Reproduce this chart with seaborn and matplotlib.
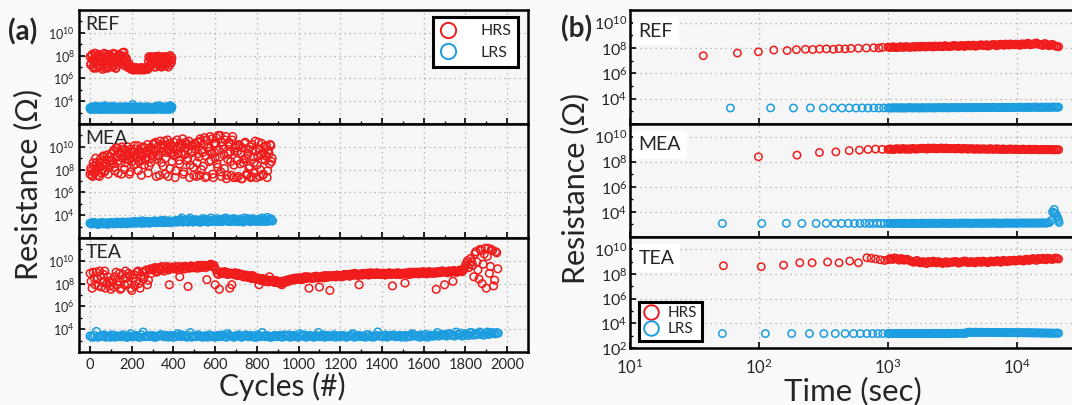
import numpy as np
import pandas as pd
import matplotlib
matplotlib.use("Agg")
import matplotlib.pyplot as plt
from matplotlib.lines import Line2D
from matplotlib.ticker import FixedLocator, FuncFormatter, NullFormatter, NullLocator
import seaborn as sns

# ======================= DATA =======================
PANELS = ["REF", "MEA", "TEA"]
STATES = ["HRS", "LRS"]
CYCLE_TICKS = [0, 200, 400, 600, 800, 1000, 1200, 1400, 1600, 1800, 2000]
TIME_TICKS = [10, 100, 1000, 10000]
RES_TICK_EXP = [4, 6, 8, 10]

# ---- (a) endurance: log10(R/Ohm); list A read at cycles 0, STEP, 2*STEP ...,
#      list B read half a step later ----
REF_HRS_STEP = 5
REF_HRS = [7.9, 7.3, 8.1, 7.0, 7.6, 8.2, 6.9, 7.5, 7.8, 7.1,
           8.0, 7.4, 6.8, 7.7, 8.1, 7.2, 7.9, 6.9, 7.6, 8.0,
           7.3, 7.8, 7.0, 8.1, 7.5, 6.9, 7.7, 7.4, 8.0, 7.6,
           8.0, 8.25, 7.5, 7.9, 7.4, 7.6, 7.2, 7.0, 6.9, 6.85,
           6.8, 6.9, 6.75, 6.85, 6.8, 6.9, 6.8, 6.75, 6.9, 6.85,
           6.8, 6.9, 6.75, 6.85, 6.8, 6.9, 7.5, 7.8, 7.1, 7.9,
           7.3, 7.6, 7.9, 7.0, 7.7, 7.4, 7.95, 7.2, 7.6, 7.8,
           7.1, 7.5, 7.9, 7.3, 7.7, 7.0, 7.6, 8.0, 7.4]
REF_HRS_B = [7.2, 8.0, 7.6, 6.9, 8.2, 7.4, 7.9, 7.1, 8.1, 7.7,
             7.0, 7.8, 7.5, 8.2, 6.9, 7.6, 7.3, 8.1, 7.0, 7.5,
             7.9, 7.1, 8.2, 7.4, 6.9, 7.8, 7.2, 8.1, 7.5, 7.9,
             7.3, 7.7, 8.3, 7.1, 7.8, 7.3, 6.95, 7.3, 7.0, 6.8,
             6.9, 6.75, 6.85, 6.95, 6.75, 6.8, 6.9, 6.85, 6.75, 6.95,
             6.85, 6.75, 6.9, 6.8, 6.95, 6.8, 7.9, 7.2, 7.7, 7.4,
             7.8, 7.0, 7.5, 7.9, 7.2, 7.8, 7.3, 7.7, 7.0, 7.5,
             7.9, 7.3, 7.1, 7.8, 7.4, 7.9, 7.2, 7.6, 7.8]
REF_LRS_STEP = 5
REF_LRS = [3.4, 3.3, 3.5, 3.35, 3.45, 3.3, 3.55, 3.4, 3.3, 3.45,
           3.35, 3.5, 3.3, 3.4, 3.6, 3.3, 3.45, 3.35, 3.5, 3.3,
           3.4, 3.3, 3.55, 3.35, 3.45, 3.3, 3.4, 3.5, 3.3, 3.4,
           3.35, 3.45, 3.3, 3.5, 3.4, 3.3, 3.45, 3.35, 3.3, 3.4,
           3.5, 3.7, 3.3, 3.4, 3.35, 3.45, 3.3, 3.5, 3.35, 3.4,
           3.3, 3.45, 3.35, 3.4, 3.3, 3.5, 3.35, 3.4, 3.3, 3.45,
           3.35, 3.4, 3.3, 3.5, 3.35, 3.4, 3.6, 3.3, 3.45, 3.35,
           3.4, 3.3, 3.45, 3.35, 3.4, 3.3, 3.55, 3.6, 3.35]
REF_LRS_B = [3.3, 3.45, 3.35, 3.5, 3.3, 3.4, 3.35, 3.5, 3.45, 3.3,
             3.45, 3.3, 3.4, 3.35, 3.45, 3.5, 3.3, 3.4, 3.35, 3.45,
             3.3, 3.5, 3.35, 3.4, 3.3, 3.45, 3.35, 3.3, 3.45, 3.35,
             3.5, 3.3, 3.4, 3.35, 3.45, 3.5, 3.3, 3.45, 3.4, 3.3,
             3.35, 3.45, 3.5, 3.3, 3.4, 3.35, 3.45, 3.3, 3.4, 3.5,
             3.35, 3.3, 3.45, 3.35, 3.5, 3.3, 3.45, 3.35, 3.4, 3.3,
             3.45, 3.35, 3.5, 3.3, 3.4, 3.45, 3.35, 3.4, 3.3, 3.5,
             3.35, 3.45, 3.3, 3.5, 3.35, 3.45, 3.3, 3.4, 3.5]

MEA_HRS_STEP = 6
MEA_HRS = [7.6, 7.9, 7.4, 8.3, 7.8, 8.6, 7.5, 8.1, 8.9, 7.7, 8.4, 9.1, 7.9, 8.6, 9.3, 8.2, 8.8,
           9.4, 8.5, 9.7, 7.9, 9.2, 9.9, 8.8, 9.5, 7.6, 9.0, 9.8, 8.6, 9.3, 10.0, 8.9, 7.8, 9.6,
           9.1, 8.4, 9.8, 9.3, 10.1, 8.7, 9.5, 7.5, 9.2, 9.9, 8.9, 9.6, 10.2, 8.3, 9.4, 9.8, 9.0,
           10.3, 9.6, 7.4, 10.0, 9.2, 10.5, 8.6, 9.9, 10.2, 7.6, 9.5, 10.6, 9.8, 8.1, 10.1, 9.4,
           10.4, 7.3, 9.7, 10.0, 8.8, 10.3, 9.5, 10.7, 7.8, 9.9, 10.2, 9.0, 10.5, 8.4, 9.6, 10.1, 7.5,
           9.8, 7.4, 10.4, 9.1, 10.7, 8.0, 9.5, 10.2, 7.3, 10.6, 9.9, 8.7, 10.9, 9.4, 7.6, 10.3,
           9.0, 10.8, 8.2, 9.7, 11.0, 7.4, 10.1, 9.3, 10.6, 7.2, 8.9, 10.4, 9.6, 7.5, 10.9, 8.4, 9.9,
           7.3, 9.6, 10.2, 8.5, 7.2, 9.9, 8.9, 10.4, 7.6, 9.3, 8.1, 10.0, 7.4, 9.7, 8.6, 10.5,
           7.3, 9.2, 9.8, 8.0, 10.3, 7.5, 9.5, 8.8, 10.1, 7.9, 9.4, 10.2, 8.7]
MEA_HRS_B = [8.1, 7.5, 8.6, 7.7, 9.0, 7.9, 8.3, 7.4, 8.7, 8.0, 9.2, 7.8, 8.5, 8.9, 7.6, 9.1, 8.4,
             8.8, 9.6, 8.2, 9.9, 9.1, 7.7, 9.4, 8.6, 10.0, 9.2, 8.0, 9.7, 8.9, 9.3, 7.6, 9.8, 8.7,
             9.5, 10.1, 8.5, 9.0, 7.9, 9.7, 9.3, 8.8, 10.0, 8.4, 9.5, 9.1, 7.7, 9.9, 8.6, 9.2, 10.2,
             9.7, 10.4, 8.9, 9.3, 7.5, 10.1, 9.6, 8.3, 10.5, 9.0, 9.8, 7.4, 10.3, 9.5, 8.7, 10.0,
             9.2, 7.9, 10.6, 9.4, 8.5, 9.9, 10.2, 7.6, 9.3, 10.4, 8.8, 9.7, 7.3, 10.1, 9.5, 8.2, 10.3,
             10.2, 8.6, 9.4, 7.5, 10.5, 9.7, 8.3, 10.8, 9.2, 7.4, 10.0, 9.6, 8.8, 10.7, 7.3, 9.5,
             10.3, 8.5, 11.0, 9.1, 7.8, 10.4, 9.8, 8.1, 10.9, 7.5, 9.4, 10.2, 8.7, 10.6, 7.3, 9.6, 10.1,
             8.8, 7.4, 10.1, 9.4, 7.2, 8.6, 10.3, 9.0, 7.5, 9.8, 8.3, 7.3, 10.2, 9.1, 7.7, 9.6,
             8.4, 10.4, 7.4, 9.3, 8.9, 7.6, 10.0, 9.2, 7.3, 9.7, 8.5, 10.1, 9.0]
MEA_LRS_STEP = 10
MEA_LRS = [3.3, 3.25, 3.35, 3.3, 3.2, 3.3, 3.35, 3.25, 3.3, 3.3,
           3.35, 3.25, 3.3, 3.4, 3.3, 3.25, 3.35, 3.3, 3.4, 3.3,
           3.35, 3.45, 3.3, 3.4, 3.35, 3.5, 3.3, 3.4, 3.45, 3.35,
           3.4, 3.5, 3.35, 3.45, 3.4, 3.55, 3.35, 3.45, 3.5, 3.4,
           3.45, 3.55, 3.4, 3.5, 3.75, 3.45, 3.55, 3.4, 3.75, 3.5,
           3.45, 3.6, 3.5, 3.4, 3.7, 3.5, 3.6, 3.45, 3.75, 3.55,
           3.5, 3.7, 3.45, 3.6, 3.55, 3.75, 3.5, 3.65, 3.45, 3.7,
           3.55, 3.45, 3.65, 3.5, 3.75, 3.55, 3.6, 3.45, 3.7, 3.55,
           3.5, 3.65, 3.45, 3.7, 3.55, 3.8, 3.5, 3.6]
MEA_LRS_B = [3.25, 3.35, 3.3, 3.2, 3.3, 3.35, 3.25, 3.3, 3.2, 3.35,
             3.3, 3.35, 3.25, 3.3, 3.35, 3.4, 3.3, 3.25, 3.35, 3.4,
             3.3, 3.4, 3.35, 3.45, 3.3, 3.35, 3.45, 3.35, 3.3, 3.4,
             3.45, 3.35, 3.4, 3.5, 3.35, 3.4, 3.5, 3.4, 3.35, 3.45,
             3.4, 3.5, 3.45, 3.6, 3.4, 3.5, 3.45, 3.6, 3.45, 3.4,
             3.55, 3.45, 3.4, 3.55, 3.45, 3.65, 3.4, 3.5, 3.45, 3.6,
             3.45, 3.55, 3.6, 3.45, 3.7, 3.5, 3.45, 3.55, 3.6, 3.5,
             3.45, 3.6, 3.5, 3.4, 3.55, 3.7, 3.45, 3.6, 3.5, 3.45,
             3.6, 3.45, 3.75, 3.5, 3.45, 3.6, 3.7, 3.5]

TEA_HRS_STEP = 10
TEA_HRS = [8.9, 7.6, 8.5, 9.0, 7.8, 8.7, 8.1, 9.1, 8.0, 8.2,
           7.5, 8.1, 8.6, 7.9, 8.9, 7.6, 8.4, 9.1, 8.0, 8.7,
           7.4, 8.8, 8.2, 9.1, 7.6, 9.0, 8.6, 9.2, 8.3, 9.3,
           9.2, 9.4, 9.0, 9.3, 9.2, 9.4, 9.3, 9.5, 7.9, 9.3,
           9.4, 9.3, 9.5, 8.6, 9.4, 9.3, 9.5, 7.75, 9.4, 9.5,
           9.4, 9.5, 9.6, 9.4, 9.5, 9.6, 8.35, 9.6, 9.7, 9.5,
           7.9, 8.9, 7.5, 9.0, 8.9, 9.0, 8.8, 7.6, 7.9, 8.9,
           8.8, 8.9, 8.7, 8.8, 8.6, 8.7, 8.6, 8.5, 8.7, 8.5,
           8.4, 7.9, 8.3, 8.4, 8.2, 8.3, 8.6, 8.2, 8.3, 8.1,
           8.2, 8.0, 7.9, 8.1, 8.3, 8.2, 8.4, 8.3, 8.4, 8.5,
           8.4, 8.5, 8.4, 8.6, 8.5, 7.6, 8.5, 8.6, 8.5, 8.6,
           7.7, 8.6, 8.5, 8.6, 8.7, 7.4, 8.6, 8.7, 8.6, 8.7,
           8.7, 8.6, 8.8, 8.7, 8.8, 8.7, 8.8, 8.9, 8.8, 7.9,
           8.8, 8.9, 8.8, 8.9, 8.8, 8.9, 8.9, 8.8, 8.9, 8.9,
           8.8, 8.9, 8.8, 8.9, 8.8, 7.8, 8.9, 8.8, 8.9, 8.8,
           8.9, 8.05, 8.9, 8.8, 8.9, 9.0, 8.9, 8.9, 9.0, 8.9,
           8.9, 9.0, 8.9, 9.0, 8.9, 9.0, 7.5, 9.0, 9.0, 9.1,
           7.9, 9.0, 9.1, 9.0, 8.2, 9.1, 9.0, 9.1, 9.1, 9.2,
           9.6, 10.0, 9.7, 9.9, 8.6, 10.8, 9.2, 11.0, 8.0, 10.6,
           7.6, 11.1, 9.5, 10.9, 8.3, 10.7]
TEA_HRS_B = [8.2, 9.0, 7.9, 8.4, 9.1, 7.7, 8.8, 7.6, 8.6, 7.8,
             8.3, 7.7, 9.0, 8.2, 7.5, 8.8, 7.9, 8.5, 8.9, 7.6,
             8.5, 7.8, 9.0, 8.0, 8.7, 8.4, 9.1, 7.9, 9.2, 8.9,
             9.3, 9.1, 9.4, 9.2, 9.5, 9.1, 9.4, 9.2, 9.35, 9.45,
             9.3, 9.5, 9.2, 9.4, 9.5, 9.3, 9.45, 9.35, 9.55, 9.4,
             9.5, 9.35, 9.45, 9.6, 9.5, 9.4, 9.55, 9.65, 9.5, 9.6,
             9.2, 8.8, 9.0, 8.9, 9.05, 8.85, 8.95, 8.9, 8.8, 8.95,
             8.7, 8.85, 8.75, 8.6, 8.75, 8.55, 8.7, 8.45, 8.6, 8.4,
             8.5, 8.3, 8.45, 8.25, 8.35, 8.15, 8.3, 8.2, 8.1, 8.25,
             8.1, 8.2, 8.05, 8.25, 8.15, 8.35, 8.3, 8.45, 8.35, 8.4,
             8.5, 8.35, 8.55, 8.45, 8.6, 8.5, 8.45, 8.55, 8.65, 8.5,
             8.55, 8.65, 8.7, 8.55, 8.6, 8.7, 8.65, 8.6, 8.75, 8.65,
             8.65, 8.75, 8.7, 8.8, 8.65, 8.85, 8.75, 8.8, 8.7, 8.85,
             8.75, 8.85, 8.9, 8.75, 8.95, 8.8, 8.85, 8.95, 8.8, 8.85,
             8.9, 8.75, 8.85, 8.95, 8.8, 8.9, 8.85, 8.95, 8.8, 8.9,
             8.85, 8.95, 8.8, 9.0, 8.85, 8.95, 9.0, 8.85, 8.95, 9.05,
             8.95, 8.85, 9.05, 8.95, 9.0, 8.9, 9.05, 8.95, 9.1, 9.0,
             9.05, 8.95, 9.1, 9.05, 9.15, 9.0, 9.1, 9.2, 9.05, 9.3,
             9.8, 9.4, 10.2, 9.6, 10.6, 9.9, 8.4, 10.9, 9.7, 11.1,
             10.4, 8.9, 11.0, 7.8, 10.8, 9.3]
TEA_LRS_STEP = 15
TEA_LRS = [3.4, 3.3, 3.8, 3.35, 3.45, 3.3, 3.4, 3.5, 3.3, 3.4,
           3.35, 3.45, 3.3, 3.6, 3.35, 3.4, 3.3, 3.75, 3.4, 3.35,
           3.45, 3.3, 3.4, 3.5, 3.35, 3.3, 3.45, 3.4, 3.6, 3.35,
           3.4, 3.3, 3.7, 3.4, 3.35, 3.45, 3.3, 3.4, 3.5, 3.35,
           3.3, 3.45, 3.4, 3.35, 3.6, 3.4, 3.3, 3.45, 3.35, 3.4,
           3.5, 3.35, 3.4, 3.3, 3.45, 3.7, 3.35, 3.4, 3.3, 3.45,
           3.4, 3.35, 3.5, 3.4, 3.3, 3.45, 3.35, 3.6, 3.4, 3.3,
           3.45, 3.4, 3.35, 3.7, 3.4, 3.3, 3.45, 3.35, 3.5, 3.4,
           3.35, 3.45, 3.3, 3.4, 3.6, 3.35, 3.45, 3.4, 3.3, 3.5,
           3.4, 3.35, 3.75, 3.4, 3.45, 3.3, 3.4, 3.5, 3.35, 3.45,
           3.4, 3.3, 3.45, 3.6, 3.4, 3.35, 3.5, 3.4, 3.3, 3.45,
           3.4, 3.7, 3.45, 3.5, 3.4, 3.6, 3.45, 3.75, 3.5, 3.4,
           3.6, 3.45, 3.7, 3.5, 3.55, 3.65, 3.5, 3.75, 3.6, 3.65,
           3.7]
TEA_LRS_B = [3.35, 3.45, 3.3, 3.4, 3.5, 3.35, 3.3, 3.45, 3.4, 3.35,
             3.5, 3.3, 3.4, 3.35, 3.45, 3.3, 3.5, 3.35, 3.4, 3.45,
             3.3, 3.4, 3.5, 3.35, 3.45, 3.4, 3.3, 3.35, 3.45, 3.5,
             3.35, 3.45, 3.3, 3.4, 3.5, 3.35, 3.4, 3.3, 3.45, 3.4,
             3.4, 3.35, 3.5, 3.3, 3.45, 3.35, 3.4, 3.5, 3.3, 3.45,
             3.35, 3.45, 3.3, 3.5, 3.35, 3.4, 3.45, 3.3, 3.4, 3.35,
             3.45, 3.3, 3.4, 3.5, 3.35, 3.4, 3.3, 3.45, 3.5, 3.35,
             3.4, 3.3, 3.45, 3.35, 3.5, 3.4, 3.35, 3.45, 3.3, 3.4,
             3.45, 3.35, 3.4, 3.5, 3.3, 3.45, 3.35, 3.4, 3.5, 3.35,
             3.3, 3.45, 3.4, 3.35, 3.5, 3.4, 3.45, 3.35, 3.4, 3.3,
             3.45, 3.4, 3.35, 3.5, 3.45, 3.3, 3.4, 3.55, 3.45, 3.4,
             3.5, 3.4, 3.55, 3.45, 3.6, 3.5, 3.4, 3.55, 3.65, 3.45,
             3.55, 3.7, 3.5, 3.6, 3.75, 3.5, 3.65, 3.55, 3.7, 3.6,
             3.65]

# ---- (b) retention: time (s) and log10(R/Ohm) ----
T_DENSE = [1000, 1060, 1120, 1190, 1260, 1330, 1410, 1500, 1580, 1680,
           1780, 1880, 2000, 2110, 2240, 2370, 2510, 2660, 2820, 2990,
           3160, 3350, 3550, 3760, 3980, 4220, 4470, 4730, 5010, 5310,
           5620, 5960, 6310, 6680, 7080, 7500, 7940, 8410, 8910, 9440,
           10000, 10590, 11220, 11890, 12590, 13340, 14130, 14960, 15850, 16790,
           17780, 18840, 19950, 21000]
T_DENSE_B = [1030, 1090, 1155, 1225, 1295, 1370, 1455, 1540, 1630, 1730,
             1830, 1940, 2055, 2175, 2305, 2440, 2585, 2740, 2905, 3075,
             3255, 3450, 3655, 3870, 4100, 4345, 4600, 4870, 5160, 5465,
             5790, 6135, 6495, 6880, 7290, 7720, 8175, 8660, 9175, 9720,
             10295, 10905, 11555, 12240, 12965, 13735, 14545, 15405, 16320, 17285,
             18310, 19395, 20475]

REF_HRS_T0 = [37, 68, 99, 130, 165, 195, 229, 261, 295, 333, 377, 417, 465, 515, 590, 680, 775, 850, 907]
REF_HRS_R0 = [7.39, 7.6, 7.7, 7.84, 7.8, 7.87, 7.9, 7.88, 7.92, 7.93, 7.9, 7.95, 7.93, 7.97, 7.98, 8.0, 8.02, 8.0, 8.05]
REF_HRS_R = [8.08, 8.05, 8.07, 8.05, 8.1, 8.06, 8.08, 8.05, 8.1, 8.12,
             8.08, 8.12, 8.1, 8.14, 8.08, 8.12, 8.15, 8.1, 8.16, 8.12,
             8.15, 8.18, 8.12, 8.2, 8.15, 8.22, 8.18, 8.14, 8.2, 8.25,
             8.2, 8.15, 8.24, 8.28, 8.2, 8.3, 8.22, 8.26, 8.32, 8.25,
             8.28, 8.22, 8.3, 8.35, 8.25, 8.3, 8.4, 8.28, 8.2, 8.32,
             8.18, 8.28, 8.15, 8.1]
REF_HRS_RB = [8.04, 8.09, 8.03, 8.08, 8.05, 8.11, 8.07, 8.1, 8.06, 8.1,
              8.14, 8.09, 8.13, 8.1, 8.16, 8.11, 8.13, 8.18, 8.12, 8.15,
              8.2, 8.14, 8.19, 8.13, 8.21, 8.16, 8.23, 8.17, 8.24, 8.19,
              8.26, 8.21, 8.27, 8.18, 8.29, 8.24, 8.31, 8.23, 8.28, 8.3,
              8.24, 8.33, 8.27, 8.37, 8.29, 8.36, 8.31, 8.25, 8.35, 8.22,
              8.26, 8.2, 8.12]
REF_LRS_T0 = [60, 123, 185, 250, 315, 379, 440, 500, 565, 630, 700, 776, 850, 925]
REF_LRS_R0 = [3.26, 3.27, 3.26, 3.27, 3.26, 3.27, 3.26, 3.27, 3.26, 3.27, 3.26, 3.27, 3.26, 3.27]
REF_LRS_R = [3.27, 3.26, 3.27, 3.28, 3.27, 3.26, 3.27, 3.28, 3.27, 3.28,
             3.27, 3.28, 3.27, 3.28, 3.27, 3.28, 3.29, 3.28, 3.27, 3.28,
             3.28, 3.29, 3.28, 3.29, 3.28, 3.29, 3.28, 3.29, 3.3, 3.29,
             3.3, 3.29, 3.3, 3.31, 3.3, 3.29, 3.3, 3.31, 3.3, 3.31,
             3.31, 3.32, 3.3, 3.32, 3.31, 3.32, 3.33, 3.31, 3.32, 3.33,
             3.32, 3.33, 3.32, 3.33]
REF_LRS_RB = [3.26, 3.28, 3.27, 3.26, 3.28, 3.27, 3.29, 3.27, 3.28, 3.26,
              3.28, 3.27, 3.29, 3.28, 3.27, 3.29, 3.28, 3.3, 3.28, 3.29,
              3.3, 3.28, 3.29, 3.3, 3.29, 3.31, 3.3, 3.29, 3.31, 3.3,
              3.31, 3.3, 3.32, 3.3, 3.31, 3.32, 3.31, 3.3, 3.32, 3.31,
              3.33, 3.32, 3.31, 3.33, 3.32, 3.34, 3.32, 3.33, 3.31, 3.33,
              3.32, 3.34, 3.33]

MEA_HRS_T0 = [99, 197, 294, 394, 500, 600, 700, 800, 900]
MEA_HRS_R0 = [8.39, 8.52, 8.73, 8.78, 8.88, 8.92, 8.97, 9.0, 8.98]
MEA_HRS_R = [8.98, 9.0, 8.97, 9.02, 8.99, 9.03, 9.0, 8.98, 9.04, 9.01,
             9.03, 9.06, 9.0, 9.05, 9.08, 9.02, 9.06, 9.04, 9.08, 9.03,
             9.05, 9.02, 9.06, 9.01, 9.04, 9.0, 9.03, 8.99, 9.02, 9.0,
             9.01, 8.98, 9.02, 8.99, 9.01, 8.97, 9.0, 8.98, 9.01, 8.97,
             8.99, 8.96, 9.0, 8.97, 8.99, 8.96, 8.98, 8.95, 8.98, 8.96,
             8.97, 8.95, 8.96, 8.95]
MEA_HRS_RB = [9.01, 8.98, 9.03, 9.0, 9.04, 8.99, 9.02, 9.05, 9.0, 9.04,
              9.07, 9.03, 9.09, 9.04, 9.07, 9.05, 9.09, 9.03, 9.06, 9.04,
              9.03, 9.06, 9.02, 9.05, 9.01, 9.04, 9.0, 9.03, 8.99, 9.02,
              8.99, 9.03, 8.98, 9.02, 8.99, 9.01, 8.97, 9.0, 8.98, 9.0,
              8.97, 8.99, 8.96, 8.98, 8.95, 8.99, 8.96, 8.98, 8.95, 8.97,
              8.96, 8.94, 8.96]
MEA_LRS_T0 = [52, 105, 163, 215, 277, 332, 386, 437, 492, 549, 605, 660, 715, 770, 825, 880, 935]
MEA_LRS_R0 = [3.08, 3.08, 3.09, 3.08, 3.08, 3.09, 3.08, 3.08, 3.09, 3.08, 3.08, 3.09, 3.08, 3.08, 3.09, 3.08, 3.08]
MEA_LRS_R = [3.08, 3.09, 3.08, 3.09, 3.08, 3.09, 3.08, 3.09, 3.08, 3.09,
             3.09, 3.08, 3.09, 3.1, 3.09, 3.08, 3.09, 3.1, 3.09, 3.08,
             3.09, 3.1, 3.09, 3.1, 3.09, 3.1, 3.09, 3.1, 3.09, 3.1,
             3.1, 3.09, 3.1, 3.11, 3.1, 3.09, 3.1, 3.11, 3.1, 3.11,
             3.1, 3.11, 3.1, 3.11, 3.12, 3.11, 3.1, 3.11, 3.12, 3.1,
             3.15, 4.0, 3.85, 3.3]
MEA_LRS_RB = [3.09, 3.08, 3.09, 3.1, 3.08, 3.09, 3.08, 3.1, 3.09, 3.08,
              3.1, 3.09, 3.08, 3.09, 3.1, 3.09, 3.1, 3.09, 3.1, 3.09,
              3.1, 3.09, 3.1, 3.1, 3.11, 3.09, 3.1, 3.11, 3.1, 3.09,
              3.11, 3.1, 3.11, 3.1, 3.11, 3.1, 3.12, 3.1, 3.11, 3.1,
              3.11, 3.12, 3.11, 3.1, 3.11, 3.12, 3.11, 3.12, 3.11, 3.13,
              3.3, 3.9, 3.6]
MEA_LRS_TAIL_T = [19400, 20400, 20800, 21200]
MEA_LRS_TAIL_R = [4.2, 3.6, 3.45, 3.15]

TEA_HRS_T0 = [53, 104, 155, 207, 258, 340, 417, 505, 590, 686, 740, 800, 870, 940]
TEA_HRS_R0 = [8.67, 8.59, 8.72, 8.91, 8.91, 8.97, 8.91, 9.05, 8.91, 9.32, 9.28, 9.22, 9.15, 9.1]
TEA_HRS_R = [9.15, 9.22, 9.3, 9.18, 9.25, 9.12, 9.2, 9.05, 8.95, 9.1,
             8.9, 9.0, 8.85, 8.95, 9.05, 8.9, 8.98, 8.85, 9.0, 8.92,
             8.95, 9.02, 8.88, 8.96, 9.05, 8.92, 9.0, 8.9, 9.03, 8.95,
             9.0, 8.92, 9.05, 8.98, 9.08, 8.95, 9.1, 9.0, 9.05, 9.12,
             9.08, 9.15, 9.05, 9.2, 9.12, 9.25, 9.1, 9.22, 9.28, 9.15,
             9.25, 9.18, 9.3, 9.22]
TEA_HRS_RB = [9.25, 9.18, 9.28, 9.12, 9.22, 9.16, 9.1, 9.0, 9.05, 8.95,
              8.98, 8.88, 9.02, 8.92, 8.96, 9.0, 8.9, 8.95, 8.88, 8.97,
              9.0, 8.92, 8.98, 9.04, 8.94, 8.99, 8.93, 9.02, 8.97, 9.05,
              8.96, 9.03, 8.99, 9.06, 9.0, 9.08, 9.03, 9.1, 9.07, 9.05,
              9.14, 9.09, 9.18, 9.1, 9.22, 9.15, 9.26, 9.18, 9.2, 9.28,
              9.2, 9.26, 9.24]
TEA_LRS_T0 = [52, 112, 179, 246, 318, 390, 465, 540, 610, 686, 760, 835, 910]
TEA_LRS_R0 = [3.17, 3.17, 3.17, 3.17, 3.17, 3.17, 3.17, 3.17, 3.17, 3.17, 3.17, 3.17, 3.17]
TEA_LRS_R = [3.17, 3.18, 3.17, 3.18, 3.17, 3.18, 3.17, 3.18, 3.17, 3.18,
             3.18, 3.17, 3.18, 3.17, 3.18, 3.17, 3.18, 3.19, 3.18, 3.17,
             3.18, 3.19, 3.18, 3.2, 3.18, 3.28, 3.27, 3.28, 3.26, 3.27,
             3.26, 3.27, 3.26, 3.25, 3.26, 3.25, 3.26, 3.25, 3.24, 3.25,
             3.24, 3.25, 3.24, 3.23, 3.24, 3.23, 3.22, 3.23, 3.22, 3.21,
             3.21, 3.2, 3.21, 3.2]
TEA_LRS_RB = [3.18, 3.17, 3.18, 3.17, 3.18, 3.17, 3.18, 3.17, 3.18, 3.17,
              3.17, 3.18, 3.17, 3.18, 3.19, 3.18, 3.17, 3.18, 3.19, 3.18,
              3.19, 3.18, 3.19, 3.18, 3.27, 3.28, 3.26, 3.27, 3.28, 3.26,
              3.27, 3.26, 3.25, 3.26, 3.25, 3.26, 3.24, 3.25, 3.24, 3.25,
              3.24, 3.23, 3.24, 3.23, 3.22, 3.23, 3.22, 3.21, 3.22, 3.21,
              3.21, 3.2, 3.21]

# ======================= STYLE =======================
RED = "#f01c1c"
BLUE = "#1c9de0"
AX_BG = "#f6f6f6"
FIG_BG = "#fafafa"
FONT = ["Lato", "DejaVu Sans"]

sns.set_style("ticks")
plt.rcParams["font.family"] = FONT
plt.rcParams["mathtext.fontset"] = "custom"
plt.rcParams["mathtext.rm"] = "Lato"
plt.rcParams["mathtext.it"] = "Lato:italic"
plt.rcParams["mathtext.bf"] = "Lato:bold"
plt.rcParams["mathtext.default"] = "regular"

W, H = 1072, 405
fig = plt.figure(figsize=(W / 100, H / 100), dpi=100, facecolor=FIG_BG)


def add_px_axes(x0, x1, ytop, ybot):
    return fig.add_axes([x0 / W, 1 - ybot / H, (x1 - x0) / W, (ybot - ytop) / H])


def hollow(ax, x, logr, color, s, lw):
    n = min(len(x), len(logr))
    df = pd.DataFrame({"x": np.asarray(x[:n], float),
                       "R": 10.0 ** np.asarray(logr[:n], float)})
    sns.scatterplot(data=df, x="x", y="R", ax=ax, color=color, s=s, marker="o",
                    linewidth=lw, legend=False, zorder=3)
    coll = ax.collections[-1]
    coll.set_facecolor("none")
    coll.set_edgecolor(color)
    coll.set_linewidth(lw)


def pow_label(v, pos, skip=()):
    e = int(round(np.log10(v)))
    if e in skip:
        return ""
    return r"$10^{%d}$" % e


def cyc_series(a, b, step):
    xa = list(step * np.arange(len(a)))
    xb = list(step * np.arange(len(b)) + step / 2.0)
    return xa + xb, list(a) + list(b)


def time_series(t0, r0, ra, rb):
    na = min(len(T_DENSE), len(ra))
    nb = min(len(T_DENSE_B), len(rb))
    t = list(t0) + list(T_DENSE[:na]) + list(T_DENSE_B[:nb])
    r = list(r0) + list(ra[:na]) + list(rb[:nb])
    return t, r


left_data = {
    "REF": (cyc_series(REF_HRS, REF_HRS_B, REF_HRS_STEP), cyc_series(REF_LRS, REF_LRS_B, REF_LRS_STEP)),
    "MEA": (cyc_series(MEA_HRS, MEA_HRS_B, MEA_HRS_STEP), cyc_series(MEA_LRS, MEA_LRS_B, MEA_LRS_STEP)),
    "TEA": (cyc_series(TEA_HRS, TEA_HRS_B, TEA_HRS_STEP), cyc_series(TEA_LRS, TEA_LRS_B, TEA_LRS_STEP)),
}
right_data = {
    "REF": (time_series(REF_HRS_T0, REF_HRS_R0, REF_HRS_R, REF_HRS_RB),
            time_series(REF_LRS_T0, REF_LRS_R0, REF_LRS_R, REF_LRS_RB)),
    "MEA": (time_series(MEA_HRS_T0, MEA_HRS_R0, MEA_HRS_R, MEA_HRS_RB),
            time_series(MEA_LRS_T0, MEA_LRS_R0, MEA_LRS_R, MEA_LRS_RB)),
    "TEA": (time_series(TEA_HRS_T0, TEA_HRS_R0, TEA_HRS_R, TEA_HRS_RB),
            time_series(TEA_LRS_T0, TEA_LRS_R0, TEA_LRS_R, TEA_LRS_RB)),
}

spine_lw = 1.8
grid_kw = dict(color="#a8a8a8", linestyle=(0, (1, 3)), linewidth=0.9)

# ---------------- (a) left stack ----------------
left_bounds = [(10, 124), (124, 238), (238, 352)]
axL = []
for i, name in enumerate(PANELS):
    ax = add_px_axes(79, 528, *left_bounds[i])
    axL.append(ax)
    ax.set_facecolor(AX_BG)
    ax.set_yscale("log")
    (hx, hy), (lx, ly) = left_data[name]
    hollow(ax, hx, hy, RED, 30, 1.1)
    hollow(ax, lx, ly, BLUE, 30, 1.1)
    ax.set_xlim(-53, 2100)
    ax.set_ylim(1e2, 1e12)
    ax.set_xlabel("")
    ax.set_ylabel("")
    ax.xaxis.set_major_locator(FixedLocator(CYCLE_TICKS))
    ax.xaxis.set_minor_locator(FixedLocator(list(range(100, 2000, 200))))
    ax.yaxis.set_major_locator(FixedLocator([10.0 ** e for e in RES_TICK_EXP]))
    ax.yaxis.set_minor_locator(FixedLocator([10.0 ** e for e in range(3, 12, 2)]))
    ax.yaxis.set_major_formatter(FuncFormatter(pow_label))
    ax.yaxis.set_minor_formatter(NullFormatter())
    ax.grid(True, which="major", **grid_kw)
    ax.set_axisbelow(True)
    ax.tick_params(which="both", direction="in", color="black", top=False, right=False)
    ax.tick_params(which="major", length=4, width=1.2)
    ax.tick_params(which="minor", length=2.5, width=1.0)
    ax.tick_params(axis="y", labelsize=9, pad=3)
    ax.tick_params(axis="x", labelsize=10.5, pad=4, labelbottom=(i == 2))
    for sp in ax.spines.values():
        sp.set_linewidth(spine_lw)
        sp.set_color("black")
        sp.set_visible(True)
    ax.annotate(name, xy=(0, 1), xycoords="axes fraction", xytext=(4.5, -4.5),
                textcoords="offset points", ha="left", va="top", fontsize=14)

handlesL = [Line2D([], [], ls="none", marker="o", ms=11, mfc="none", mec=c, mew=1.4, label=l)
            for c, l in zip([RED, BLUE], STATES)]
legL = axL[0].legend(handles=handlesL, loc="upper right", bbox_to_anchor=(0.978, 0.939),
                     borderaxespad=0, frameon=True, fancybox=False, edgecolor="black",
                     facecolor="white", framealpha=1, fontsize=11.5, handlelength=1.0,
                     handletextpad=1.5, borderpad=0.45, labelspacing=0.45)
legL.get_frame().set_linewidth(2.2)

# ---------------- (b) right stack ----------------
right_bounds = [(10, 124), (124, 237), (237, 348)]
axR = []
for i, name in enumerate(PANELS):
    ax = add_px_axes(630, 1072, *right_bounds[i])
    axR.append(ax)
    ax.set_facecolor(AX_BG)
    ax.set_xscale("log")
    ax.set_yscale("log")
    (th, rh), (tl, rl) = right_data[name]
    hollow(ax, th, rh, RED, 28, 1.1)
    hollow(ax, tl, rl, BLUE, 28, 1.1)
    if name == "MEA":
        hollow(ax, MEA_LRS_TAIL_T, MEA_LRS_TAIL_R, BLUE, 28, 1.1)
    ax.set_xlim(10, 10 ** 4.426)
    ax.set_ylim(1e2, 1e11)
    ax.set_xlabel("")
    ax.set_ylabel("")
    ax.xaxis.set_major_locator(FixedLocator(TIME_TICKS))
    ax.xaxis.set_minor_locator(NullLocator())
    ax.xaxis.set_major_formatter(FuncFormatter(pow_label))
    ax.yaxis.set_major_locator(FixedLocator([10.0 ** e for e in [2] + RES_TICK_EXP]))
    ax.yaxis.set_minor_locator(FixedLocator([10.0 ** e for e in range(3, 12, 2)]))
    skip = () if i == 2 else (2,)
    ax.yaxis.set_major_formatter(FuncFormatter(lambda v, p, s=skip: pow_label(v, p, s)))
    ax.yaxis.set_minor_formatter(NullFormatter())
    ax.grid(True, which="major", **grid_kw)
    ax.set_axisbelow(True)
    ax.tick_params(which="both", direction="in", color="black", top=False, right=False)
    ax.tick_params(which="major", length=4, width=1.2)
    ax.tick_params(which="minor", length=2.5, width=1.0)
    ax.tick_params(axis="y", labelsize=11.5, pad=2)
    ax.tick_params(axis="x", labelsize=12, pad=7, labelbottom=(i == 2))
    for k, sp in ax.spines.items():
        sp.set_linewidth(spine_lw)
        sp.set_color("black")
        sp.set_visible(k != "right")
    ax.annotate(name, xy=(0, 1), xycoords="axes fraction", xytext=(6, -9),
                textcoords="offset points", ha="left", va="top", fontsize=14,
                bbox=dict(boxstyle="square,pad=0.3", fc="white", ec="none"))

handlesR = [Line2D([], [], ls="none", marker="o", ms=10.5, mfc="none", mec=c, mew=1.4, label=l)
            for c, l in zip([RED, BLUE], STATES)]
legR = axR[2].legend(handles=handlesR, loc="lower left", bbox_to_anchor=(0.02, 0.063),
                     borderaxespad=0, frameon=True, fancybox=False, edgecolor="black",
                     facecolor="white", framealpha=1, fontsize=11, handlelength=1.0,
                     handletextpad=0.6, borderpad=0.3, labelspacing=0.15)
legR.get_frame().set_linewidth(2.2)

# ---------------- figure texts ----------------
fig.text(28 / W, 1 - 184 / H, "Resistance (\u03a9)", rotation=90, ha="center", va="center", fontsize=22)
fig.text(575 / W, 1 - 188 / H, "Resistance (\u03a9)", rotation=90, ha="center", va="center", fontsize=22)
fig.text(282.5 / W, 1 - 386 / H, "Cycles (#)", ha="center", va="center", fontsize=21.5)
fig.text(853 / W, 1 - 391 / H, "Time (sec)", ha="center", va="center", fontsize=22.5)
fig.text(23 / W, 1 - 32 / H, "(a)", ha="center", va="center", fontsize=20, fontweight="bold")
fig.text(577 / W, 1 - 29 / H, "(b)", ha="center", va="center", fontsize=20, fontweight="bold")

fig.savefig("out.png", dpi=100, facecolor=FIG_BG)
